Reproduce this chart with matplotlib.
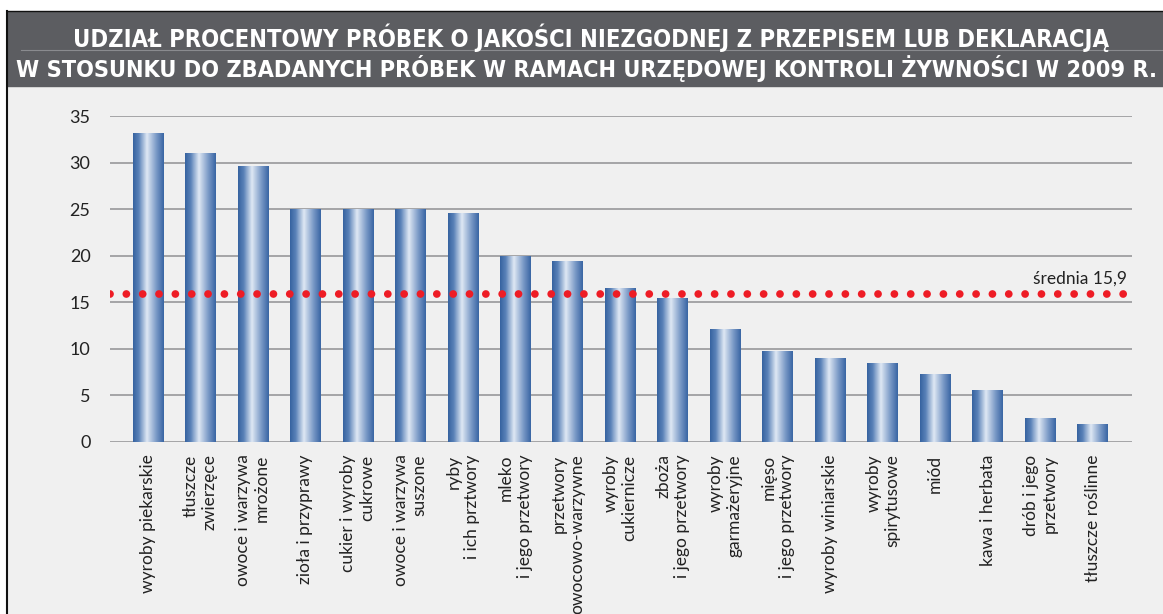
import numpy as np
import matplotlib
matplotlib.use("Agg")
import matplotlib.pyplot as plt
from matplotlib.colors import LinearSegmentedColormap

# data
categories = [
    "wyroby piekarskie", "tłuszcze\nzwierzęce", "owoce i warzywa\nmrożone",
    "zioła i przyprawy", "cukier i wyroby\ncukrowe", "owoce i warzywa\nsuszone",
    "ryby\ni ich prztwory", "mleko\ni jego przetwory", "przetwory\nowocowo-warzywne",
    "wyroby\ncukiernicze", "zboża\ni jego przetwory", "wyroby\ngarmażeryjne",
    "mięso\ni jego przetwory", "wyroby winiarskie", "wyroby\nspirytusowe",
    "miód", "kawa i herbata", "drób i jego\nprzetwory", "tłuszcze roślinne",
]
values = [33.2, 31.0, 29.6, 25.0, 25.0, 25.0, 24.6, 20.0, 19.4,
          16.5, 15.5, 12.1, 9.8, 9.0, 8.5, 7.3, 5.6, 2.6, 1.9]
average = 15.9
yticks = [0, 5, 10, 15, 20, 25, 30, 35]

title1 = "UDZIAŁ PROCENTOWY PRÓBEK O JAKOŚCI NIEZGODNEJ Z PRZEPISEM LUB DEKLARACJĄ"
title2 = "W STOSUNKU DO ZBADANYCH PRÓBEK W RAMACH URZĘDOWEJ KONTROLI ŻYWNOŚCI W 2009 R."

plt.rcParams["font.family"] = ["Lato", "DejaVu Sans"]

W, H = 1163, 614
fig = plt.figure(figsize=(W / 100, H / 100), dpi=100)
fig.patch.set_facecolor("white")

# background panel + title band
bg = fig.add_axes([7 / W, 0, 1 - 7 / W, 1 - 11 / H])
bg.set_xlim(0, 1)
bg.set_ylim(0, 1)
bg.axis("off")
bg.add_patch(plt.Rectangle((0, 0), 1, 1, color="#f0f0f0", transform=bg.transAxes))
band_h = 75 / (H - 11)
bg.add_patch(plt.Rectangle((0, 1 - band_h), 1, band_h, color="#5c5d61", transform=bg.transAxes))
bg.plot([0, 0], [0, 1], color="#111111", lw=1.5, transform=bg.transAxes, clip_on=False)
bg.plot([0, 1], [1, 1], color="#111111", lw=1.0, transform=bg.transAxes, clip_on=False)
bg.plot([0.012, 1], [1 - 39 / (H - 11)] * 2, color="#8a8b8f", lw=0.8, transform=bg.transAxes)

tfont = ["DejaVu Sans", "Liberation Sans"]
t1 = fig.text(591 / W, 1 - 38 / H, title1, color="white", fontsize=18, weight="bold",
              family=tfont, stretch="condensed", ha="center", va="center")
t2 = fig.text(586 / W, 1 - 69 / H, title2, color="white", fontsize=18, weight="bold",
              family=tfont, stretch="condensed", ha="center", va="center")
fig.canvas.draw()
r = fig.canvas.get_renderer()
for t, target in ((t1, 1032), (t2, 1142)):
    w = t.get_window_extent(r).width
    t.set_fontsize(18 * target / w)

ax = fig.add_axes([110 / W, (H - 442) / H, (1132 - 110) / W, (442 - 116) / H])
ax.set_facecolor("none")
x = np.arange(len(categories))
bars = ax.bar(x, values, width=0.58, color="none", zorder=3)

cmap = LinearSegmentedColormap.from_list(
    "barfill", [(0, "#3763a0"), (0.18, "#5a82b8"), (0.45, "#dfe8f4"), (0.75, "#7d9cc8"), (1, "#3a66a4")])
grad = np.linspace(0, 1, 64).reshape(1, -1)
for b in bars:
    im = ax.imshow(grad, cmap=cmap, aspect="auto", zorder=3,
                   extent=(b.get_x(), b.get_x() + b.get_width(), 0, b.get_height()))
    im.set_clip_path(b)

ax.axhline(average, color="#ee1c25", lw=5.6, linestyle=(0, (0.001, 2.1)),
           dash_capstyle="round", zorder=4)
ax.text(0.995, average + 1.6, "średnia 15,9", transform=ax.get_yaxis_transform(),
        ha="right", va="center", fontsize=12.5, color="#222222")

ax.set_xlim(-0.72, 18.75)
ax.set_ylim(0, 35)
ax.set_yticks(yticks)
ax.yaxis.grid(True, color="#a4a4a6", lw=1.4, zorder=1)
ax.set_axisbelow(True)
for s in ax.spines.values():
    s.set_visible(False)
ax.tick_params(length=0, labelsize=13, colors="#222222")
ax.tick_params(axis="y", pad=14)
ax.tick_params(axis="x", pad=9)
ax.set_xticks(x)
ax.set_xticklabels(categories, rotation=90, fontsize=12.5, va="top", ha="center")
for lab in ax.get_xticklabels():
    lab.set_multialignment("right")

fig.savefig("out.png", dpi=100, facecolor=fig.get_facecolor())
